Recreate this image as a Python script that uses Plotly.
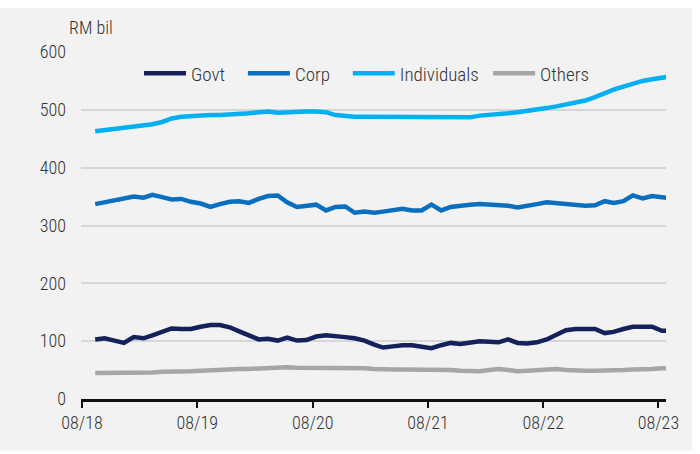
import plotly.graph_objects as go
import pandas as pd

months = pd.date_range("2018-08-12", periods=61, freq="MS") + pd.Timedelta(days=11)

govt = [103, 105, 101, 97, 107, 105, 110, 117, 122, 121, 121, 125, 128, 128, 124, 117,
        110, 103, 104, 101, 106, 101, 102, 108, 110, 109, 107, 105, 101, 94, 89, 91,
        93, 93, 91, 88, 93, 97, 95, 98, 100, 99, 98, 103, 97, 96, 98, 103, 111, 119,
        121, 121, 121, 114, 116, 121, 125, 125, 125, 118, 118]
corp = [337, 340, 344, 348, 350, 348, 353, 349, 345, 346, 341, 338, 332, 337, 341, 342,
        339, 346, 351, 352, 340, 332, 334, 336, 326, 332, 333, 322, 324, 322, 324, 327,
        329, 326, 326, 336, 326, 332, 335, 336, 337, 336, 334, 334, 331, 335, 337, 340,
        338, 336, 335, 334, 335, 342, 339, 342, 352, 347, 351, 350, 347]
individuals = [463, 465, 466, 468, 470, 472, 475, 479, 485, 488, 489, 491, 491, 491, 492, 492,
               494, 496, 497, 495, 496, 497, 497, 497, 496, 491, 489, 488, 488, 488, 488, 488,
               487, 487, 487, 487, 487, 487, 487, 487, 490, 491, 492, 494, 496, 498, 500, 503,
               506, 509, 512, 516, 522, 529, 535, 540, 545, 550, 553, 556, 558]
others = [45, 45, 45, 45, 45, 46, 46, 47, 47, 48, 48, 49, 50, 50, 51, 52,
          52, 53, 53, 54, 55, 54, 54, 53, 53, 53, 53, 53, 53, 52, 51, 51,
          51, 51, 51, 51, 50, 50, 49, 49, 48, 50, 52, 50, 48, 49, 50, 51,
          52, 50, 49, 49, 49, 49, 50, 50, 51, 51, 52, 53, 53]

series = [("Govt", govt, "#14215b"), ("Corp", corp, "#0b6fbf"),
          ("Individuals", individuals, "#00b0f0"), ("Others", others, "#a6a6a6")]
pads = ["\u00a0\u00a0\u00a0", "\u00a0\u00a0\u00a0", "\u00a0", ""]

tickvals = ["2018-08-01", "2019-08-01", "2020-08-01", "2021-08-01", "2022-08-01", "2023-08-01"]
ticktext = ["08/18", "08/19", "08/20", "08/21", "08/22", "08/23"]

FONT = "Roboto Condensed, Liberation Sans Narrow, DejaVu Sans Condensed, Roboto, sans-serif"

fig = go.Figure()
for (name, vals, col), pad in zip(series, pads):
    fig.add_trace(go.Scatter(x=months, y=vals, name=name + pad, mode="lines",
                             line=dict(color=col, width=4.5)))

fig.update_layout(
    width=700, height=454,
    margin=dict(l=81, r=34, t=52, b=55),
    paper_bgcolor="white", plot_bgcolor="#f2f2f2",
    font=dict(family=FONT, size=16, color="#333333", weight=300),
    showlegend=True,
    legend=dict(orientation="h", x=(139 - 81) / 585, y=0.938, xanchor="left", yanchor="middle",
                bgcolor="rgba(0,0,0,0)", font=dict(size=19, color="#333333", weight=300),
                itemwidth=42, tracegroupgap=0),
    xaxis=dict(type="date", range=["2018-07-29", "2023-08-25"], tickvals=tickvals,
               ticktext=ticktext, showgrid=False, zeroline=False, showline=True,
               linecolor="#111111", linewidth=2.5, ticks="outside", ticklen=6,
               tickwidth=2, tickcolor="#111111",
               tickfont=dict(size=18, weight=300, color="#333333")),
    yaxis=dict(range=[0, 600], tickvals=[0, 100, 200, 300, 400, 500, 600],
               showgrid=True, gridcolor="#d6d6d6", gridwidth=1.5, zeroline=False,
               showline=False, ticks="", ticklabelstandoff=14,
               tickfont=dict(size=18, weight=300, color="#333333")),
    shapes=[dict(type="rect", xref="paper", yref="paper", layer="below",
                 x0=-81/585, x1=(692-81)/585, y0=-(450-398.6)/346.9, y1=(398.6-8)/346.9,
                 fillcolor="#f2f2f2", line=dict(width=0))],
    annotations=[dict(text="RM bil", xref="paper", yref="paper", x=(67-81)/585,
                      y=(398.6-27)/346.9, xanchor="left", yanchor="middle",
                      showarrow=False, font=dict(size=18, color="#333333", weight=300))],
)

fig.write_html("out.html")
